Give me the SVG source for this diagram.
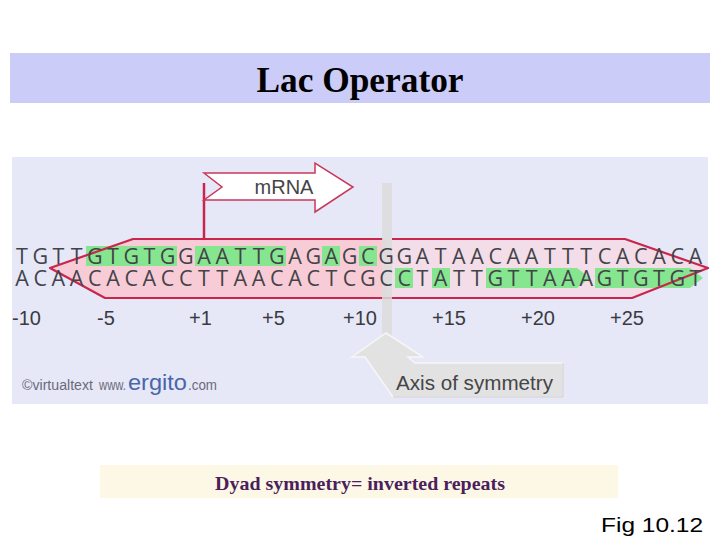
<svg xmlns="http://www.w3.org/2000/svg" width="720" height="540" viewBox="0 0 720 540">
<style>
.seq{font-family:"Open Sans","Noto Sans",sans-serif;font-size:21.5px;fill:#434349;text-anchor:middle}
.num{font-family:"Liberation Sans",Arial,sans-serif;font-size:20px;fill:#3a3a40}
.lbl{font-family:"Liberation Sans",Arial,sans-serif;fill:#454548}
.hl{fill:#86e68f}
.edge{fill:none;stroke:#c8264c;stroke-width:2.2;stroke-linejoin:round}
</style>
<rect width="720" height="540" fill="#ffffff"/>
<g id="title">
<rect x="10" y="53" width="700" height="50" fill="#ccccf8"/>
<text x="360" y="92" text-anchor="middle" font-family="'Liberation Serif','Times New Roman',serif" font-weight="bold" font-size="36" fill="#000" textLength="207" lengthAdjust="spacingAndGlyphs">Lac Operator</text>
</g>
<g id="panel">
<rect x="12" y="157" width="696" height="247" fill="#e6e8f8"/>
</g>
<g id="operator-band">
<polygon points="50,268 133,239 386,239 386,298 105,298" fill="#f8ccd6"/>
<polygon points="386,239 625,239 708,268 632,298 386,298" fill="#f2dde8"/>
<g class="hl">
<rect x="86" y="246" width="91" height="20"/>
<rect x="195" y="246" width="91" height="20"/>
<rect x="322" y="246" width="18" height="20"/>
<rect x="359" y="246" width="18" height="20"/>
<rect x="395" y="268" width="18" height="20"/>
<rect x="432" y="268" width="18" height="20"/>
<polygon points="486,268 577,268 590,278 577,288 486,288"/>
<polygon points="595,268 690,268 703,278 690,288 595,288"/>
</g>
<polyline class="edge" points="383,239 133,239 50,268 105,298 632,298 708,268 625,239 392,239"/>
</g>
<g id="connectors">
<rect x="382" y="183" width="10" height="155" fill="#dcdcdc" opacity="0.85"/>
<line x1="204" y1="183" x2="204" y2="240" stroke="#c8264c" stroke-width="2.5"/>
</g>
<g id="sequence-top">
<text class="seq" y="264" x="22 40.2 58.4 76.6 94.8 113 131.2 149.4 167.6 185.8 204 222.2 240.4 258.6 276.8 295 313.2 331.4 349.6 367.8 386 404.2 422.4 440.6 458.8 477 495.2 513.4 531.6 549.8 568 586.2 604.4 622.6 640.8 659 677.2 695.4">TGTTGTGTGGAATTGAGAGCGGATAACAATTTCACACA</text>
</g>
<g id="sequence-bottom">
<text class="seq" y="286" x="22 40.2 58.4 76.6 94.8 113 131.2 149.4 167.6 185.8 204 222.2 240.4 258.6 276.8 295 313.2 331.4 349.6 367.8 386 404.2 422.4 440.6 458.8 477 495.2 513.4 531.6 549.8 568 586.2 604.4 622.6 640.8 659 677.2 695.4">ACAACACACCTTAACACTCGCCTATTGTTAAAGTGTGT</text>
</g>
<g id="mrna-arrow">
<polygon points="204,173 315,173 315,163 353,187 315,212 315,200 204,200 222,187" fill="#ffffff" stroke="#c8385a" stroke-width="1.5" stroke-linejoin="miter"/>
<text class="lbl" x="284" y="194" font-size="20" text-anchor="middle">mRNA</text>
</g>
<g id="positions">
<text class="num" x="12" y="325">-10</text>
<text class="num" x="97" y="325">-5</text>
<text class="num" x="189" y="325">+1</text>
<text class="num" x="262" y="325">+5</text>
<text class="num" x="343" y="325">+10</text>
<text class="num" x="432" y="325">+15</text>
<text class="num" x="521" y="325">+20</text>
<text class="num" x="610" y="325">+25</text>
</g>
<g id="axis-of-symmetry">
<polygon points="386,333 423,357 408,357 415,363 563,363 563,397 393,397 365,357 352,357" fill="#e2e2e2" stroke="#f6f6f6" stroke-width="1.5" stroke-linejoin="miter"/>
<polyline points="393,397 563,397 563,363" fill="none" stroke="#c8c8cc" stroke-width="1"/>
<text class="lbl" x="396" y="390" font-size="20" textLength="157" lengthAdjust="spacingAndGlyphs">Axis of symmetry</text>
</g>
<g id="copyright">
<text x="22" y="390" font-family="'Liberation Sans',Arial,sans-serif" fill="#6a6a78" font-size="14"><tspan textLength="71" lengthAdjust="spacingAndGlyphs">©virtualtext</tspan><tspan x="99" textLength="27" lengthAdjust="spacingAndGlyphs">www.</tspan><tspan x="128" fill="#4a66a8" font-size="22" textLength="59" lengthAdjust="spacingAndGlyphs">ergito</tspan><tspan x="188" textLength="29" lengthAdjust="spacingAndGlyphs">.com</tspan></text>
</g>
<g id="caption">
<rect x="100" y="465" width="518" height="33" fill="#fdf8e6"/>
<text x="215" y="490" font-family="'Liberation Serif','Times New Roman',serif" font-weight="bold" font-size="19" fill="#4b1e5c" textLength="290" lengthAdjust="spacingAndGlyphs">Dyad symmetry= inverted repeats</text>
</g>
<g id="figure-number">
<text x="601" y="532" font-family="'Liberation Sans',Arial,sans-serif" font-size="21" fill="#000" textLength="102" lengthAdjust="spacingAndGlyphs">Fig 10.12</text>
</g>
</svg>
